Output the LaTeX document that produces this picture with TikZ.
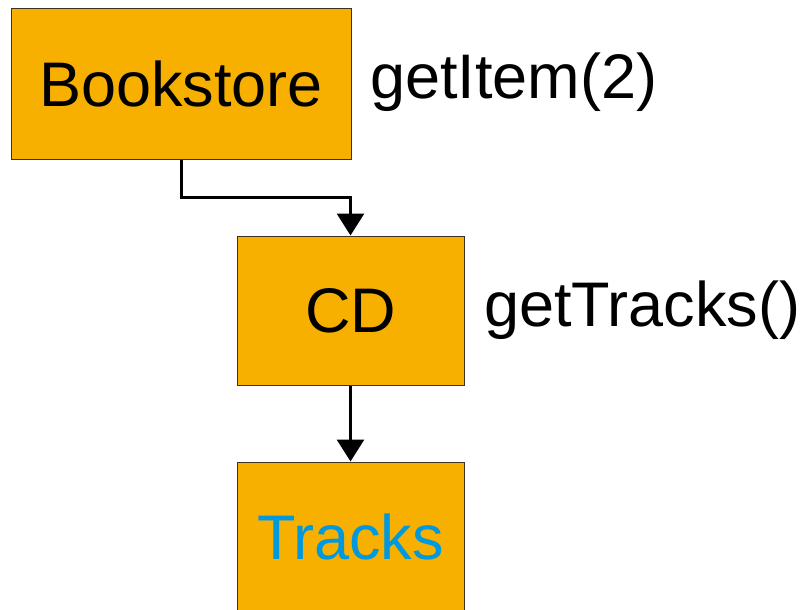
\documentclass[tikz,border=0pt]{standalone}
\usepackage{fontspec}
\setmainfont{Liberation Sans}
\usetikzlibrary{arrows.meta}
\definecolor{boxorange}{RGB}{248,176,0}
\definecolor{boxborder}{RGB}{60,50,30}
\definecolor{trackblue}{RGB}{0,153,221}
\tikzset{
  objbox/.style={draw=boxborder, line width=1pt, fill=boxorange, inner sep=0pt,
    font=\fontsize{63}{70}\selectfont},
  msg/.style={inner sep=0pt, anchor=base west, font=\fontsize{63}{70}\selectfont},
  conn/.style={line width=3pt, draw=black, -{Triangle[width=27pt,length=22pt]}}
}
\begin{document}
\begin{tikzpicture}[x=1pt,y=-1pt]
\useasboundingbox (0,0) rectangle (803,610);
\clip (0,0) rectangle (803,610);
\node[objbox, minimum width=340pt, minimum height=150pt] (book) at (181,84) {Bookstore};
\node[objbox, minimum width=227pt, minimum height=149pt] (cd) at (350.5,310.5) {CD};
\node[objbox, minimum width=227pt, minimum height=150pt, text=trackblue] (tracks) at (350.5,537) {Tracks};
\node[msg] (m1) at (370,99) {getItem(2)};
\node[msg] (m2) at (484,326) {getTracks()};
\coordinate (bend) at (350.5,197);
\draw[conn] (book.south) |- (bend) -- (cd.north);
\draw[conn] (cd.south) -- (tracks.north);
\end{tikzpicture}
\end{document}
